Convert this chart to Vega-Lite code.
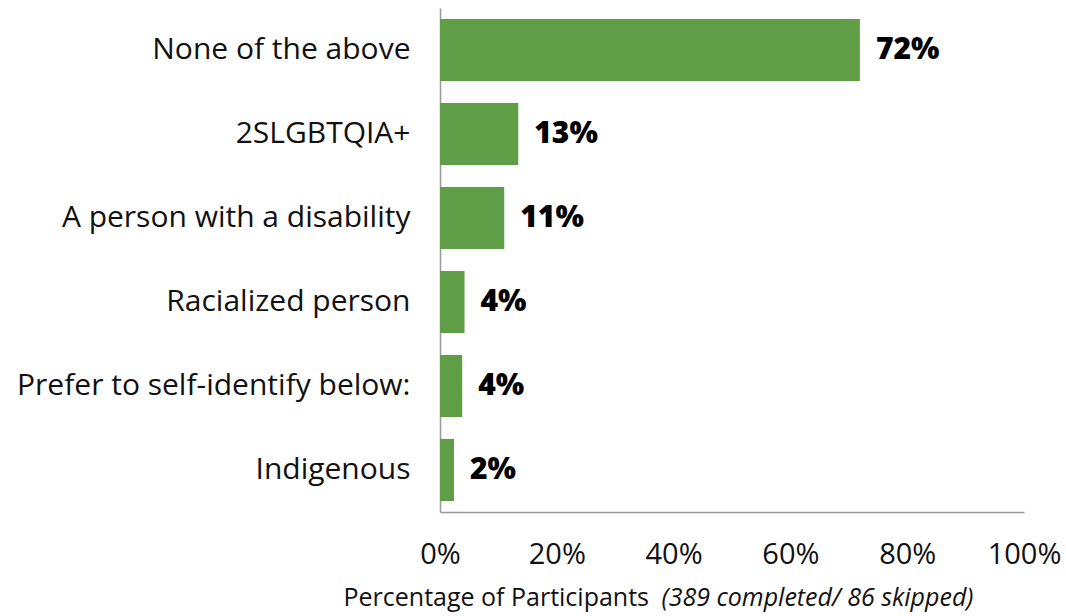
{
  "$schema": "https://vega.github.io/schema/vega-lite/v6.json",
  "width": 584,
  "height": 504,
  "autosize": "none",
  "padding": {"left": 440, "top": 8, "right": 42, "bottom": 104},
  "background": "white",
  "config": {"view": {"stroke": null}, "font": "Open Sans"},
  "data": {
    "values": [
      {"category": "None of the above", "pct": 71.9, "label": "72%"},
      {"category": "2SLGBTQIA+", "pct": 13.4, "label": "13%"},
      {"category": "A person with a disability", "pct": 11, "label": "11%"},
      {"category": "Racialized person", "pct": 4.2, "label": "4%"},
      {"category": "Prefer to self-identify below:", "pct": 3.8, "label": "4%"},
      {"category": "Indigenous", "pct": 2.4, "label": "2%"}
    ]
  },
  "encoding": {
    "y": {
      "field": "category",
      "type": "nominal",
      "sort": null,
      "scale": {"paddingInner": 0.26, "paddingOuter": 0.13},
      "axis": {
        "title": null,
        "ticks": false,
        "domainColor": "#999999",
        "domainWidth": 1.5,
        "labelFont": "Open Sans",
        "labelFontSize": 30,
        "labelColor": "#111111",
        "labelPadding": 30,
        "labelLimit": 500
      }
    }
  },
  "layer": [
    {
      "mark": {"type": "bar", "color": "#5f9e46"},
      "encoding": {
        "x": {
          "field": "pct",
          "type": "quantitative",
          "scale": {"domain": [0, 100], "nice": false},
          "axis": {
            "orient": "bottom",
            "values": [0, 20, 40, 60, 80, 100],
            "labelExpr": "datum.value + '%'",
            "grid": false,
            "ticks": false,
            "domainColor": "#999999",
            "domainWidth": 1.5,
            "labelFont": "Open Sans",
            "labelFontSize": 29,
            "labelColor": "#111111",
            "labelPadding": 28,
            "labelFlush": false,
            "title": "Percentage of Participants",
            "titleFont": "Open Sans",
            "titleFontSize": 25,
            "titleFontWeight": "normal",
            "titleColor": "#111111",
            "titleAlign": "left",
            "titleAnchor": null,
            "titleX": -97,
            "titleY": 93,
            "titleBaseline": "alphabetic"
          }
        }
      }
    },
    {
      "mark": {"type": "text", "align": "left", "baseline": "middle", "dx": 16, "fontSize": 30, "fontWeight": 800, "font": "Open Sans", "color": "#000000"},
      "encoding": {
        "x": {
          "field": "pct",
          "type": "quantitative",
          "scale": {"domain": [0, 100], "nice": false},
          "axis": {
            "orient": "bottom",
            "labels": false,
            "ticks": false,
            "domain": false,
            "grid": false,
            "title": "(389 completed/ 86 skipped)",
            "titleFont": "Open Sans",
            "titleFontSize": 25,
            "titleFontWeight": "normal",
            "titleFontStyle": "italic",
            "titleColor": "#111111",
            "titleAlign": "right",
            "titleAnchor": null,
            "titleX": 533,
            "titleY": 93,
            "titleBaseline": "alphabetic"
          }
        },
        "text": {"field": "label"}
      }
    }
  ],
  "resolve": {"axis": {"x": "independent"}}
}
